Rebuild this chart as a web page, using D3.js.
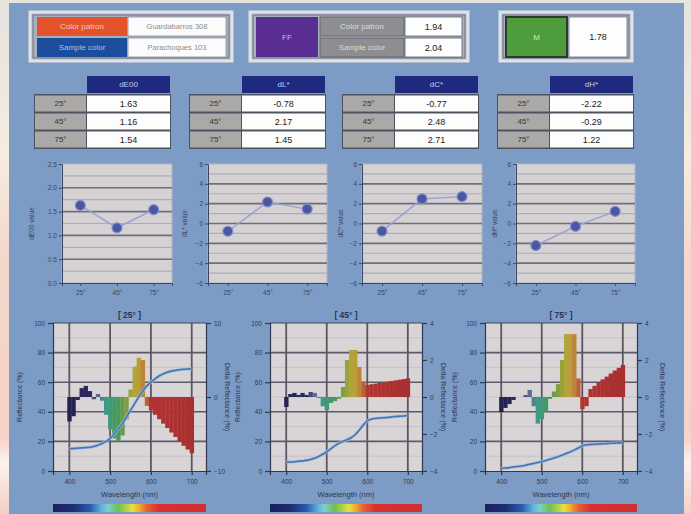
<!DOCTYPE html>
<html><head><meta charset="utf-8">
<script src="https://cdn.jsdelivr.net/npm/d3@7"></script>
<style>
html,body{margin:0;padding:0;background:#7d9cc5;overflow:hidden}
svg{display:block;font-family:"Liberation Sans",Arial,sans-serif}
</style>
</head><body>
<svg id="c" width="691" height="514"></svg>
<script>
// ---- header info ----
const patronLabel = "Color patron";
const sampleLabel = "Sample color";
const patronName = "Guardabarros 308";
const sampleName = "Parachoques 103";
const ffLabel = "FF";
const ffValues = [1.94, 2.04];
const mLabel = "M";
const mValue = 1.78;

// ---- colour differences per geometry ----
const angles = ["25°", "45°", "75°"];
const dE00 = [1.63, 1.16, 1.54];
const dL = [-0.78, 2.17, 1.45];
const dC = [-0.77, 2.48, 2.71];
const dH = [-2.22, -0.29, 1.22];
const dETicks = [0, 0.5, 1, 1.5, 2, 2.5];
const dLCHTicks = [-6, -4, -2, 0, 2, 4, 6];

// ---- spectral data (10 nm steps) ----
const wavelengths = [400,410,420,430,440,450,460,470,480,490,500,510,520,530,540,550,560,570,580,590,600,610,620,630,640,650,660,670,680,690,700];
const refl25 = [15,15.2,15.4,15.6,15.8,16,16.6,17.4,18.6,20,22,25,28.5,32,36.5,41,45.5,50,54,57.5,60,62.2,64.2,65.6,66.7,67.5,68,68.4,68.7,68.9,69];
const refl45 = [6,6.1,6.3,6.6,6.8,7.2,7.8,8.6,9.8,11.3,13,15,17,18.8,20,21.2,22.5,24.5,27.5,31,33.8,35,35.5,35.8,36,36.2,36.5,36.8,37,37.2,37.4];
const refl75 = [1.7,2,2.3,2.7,3,3.4,3.9,4.5,5.1,5.7,6.3,7.1,7.9,8.8,9.7,10.7,11.8,12.9,14.1,15.5,17,17.7,17.9,18.1,18.2,18.4,18.5,18.7,18.8,19,19.1];
const delta25 = [-3.3,-2.6,-0.4,1.2,1.5,0.8,-0.3,0.4,-0.5,-2.4,-4.4,-5.6,-6.0,-5.2,-3.0,1.0,4.1,5.3,5.0,-1.2,-1.8,-2.4,-3.0,-3.6,-4.2,-4.8,-5.4,-6.0,-6.6,-7.1,-7.6];
const delta45 = [-0.54,0.16,0.22,0.11,0.22,0.11,0.27,0.22,-0.05,-0.5,-0.7,-0.32,-0.22,-0.1,0.54,2.0,2.54,2.54,1.62,0.81,0.65,0.69,0.72,0.76,0.79,0.83,0.87,0.9,0.94,0.97,1.01];
const delta75 = [-0.81,-0.59,-0.38,-0.16,0,0,0.1,0.38,-0.5,-1.44,-1.2,-0.8,-0.1,0.3,0.7,2.0,3.4,3.4,3.4,1.0,-0.65,-0.5,0.43,0.6,0.78,0.95,1.1,1.27,1.43,1.58,1.73];
const reflTicks = [0, 20, 40, 60, 80, 100];
const wlTicks = [400, 500, 600, 700];

// spectral colour ramps
const barStops = [400,450,470,490,520,545,565,585,600,700];
const barColors = ["#23214f","#2b2a5e","#5a6a90","#3c9a86","#4a9a5a","#8ea03c","#b8a838","#c07838","#b03432","#a83030"];
const barColor = d3.scaleLinear().domain(barStops).range(barColors).clamp(true);
const rampStops = [360,410,450,480,495,520,555,570,590,620,735];
const rampColors = ["#1c2060","#1e2c70","#2858b0","#60b8e0","#7ed0c8","#6cc050","#e8e040","#f0b030","#e86030","#d83030","#d03030"];

const svg = d3.select("#c");
const defs = svg.append("defs");
const FONT = "'Liberation Sans', Arial, sans-serif";

// ---- backdrop ----
const eg = defs.append("linearGradient").attr("id","edge").attr("x1",0).attr("x2",0).attr("y1",0).attr("y2",1);
[[0,"#e6e2de"],[0.3,"#f6ece0"],[0.5,"#f3d8cc"],[0.85,"#f6d2c8"],[0.9,"#fbf2ee"],[1,"#f4cfc6"]]
  .forEach(s => eg.append("stop").attr("offset",s[0]).attr("stop-color",s[1]));
svg.append("rect").attr("width",691).attr("height",514).attr("fill","url(#edge)");
svg.append("rect").attr("x",9).attr("y",3).attr("width",675).attr("height",511).attr("fill","#7d9cc5");

function rect(x,y,w,h,fill,stroke,sw){
  return svg.append("rect").attr("x",x).attr("y",y).attr("width",w).attr("height",h)
    .attr("fill",fill).attr("stroke",stroke||"none").attr("stroke-width",sw||0);
}
function text(x,y,t,size,color,anchor,weight){
  return svg.append("text").attr("x",x).attr("y",y).text(t).attr("font-size",size)
    .attr("fill",color).attr("text-anchor",anchor||"middle").attr("dominant-baseline","central")
    .attr("font-weight",weight||"normal");
}
function frame(x,y,w,h){
  rect(x,y,w,h,"#b7bfcb","#dfe2e6",3);
  rect(x+3,y+3,w-6,h-6,"#a6b1c0","#6a7280",1);
}

// ---- top boxes ----
frame(30,12,202,49);
rect(37,17,90,19,"#e5532d");
text(82,26.5,patronLabel,8,"#f6c6b4");
rect(37,38,90,19,"#1d4e9e");
text(82,47.5,sampleLabel,8,"#a8c0ec");
rect(128,17,98,19,"#fbfbfb","#8a8f98",0.8);
text(177,26.5,patronName,7.5,"#8c8c8c");
rect(128,38,98,19,"#fbfbfb","#8a8f98",0.8);
text(177,47.5,sampleName,7.5,"#8c8c8c");

frame(250,12,218,49);
rect(256,17,62,40,"#5a2d92");
text(287,37,ffLabel,8,"#cbbde6");
[patronLabel, sampleLabel].forEach((lab,i) => {
  rect(320,17+i*21,84,19,"#8e8e90","#5a5e66",0.8);
  text(362,26.5+i*21,lab,8,"#dadada");
  rect(405,17+i*21,57,19,"#fdfdfd","#5a5e66",0.8);
  text(433.5,26.5+i*21,ffValues[i].toFixed(2),9,"#222");
});

frame(500,12,132,49);
rect(506,17,61,40,"#4e9c3c","#2b3a2a",2);
text(536.5,37,mLabel,8,"#cfe8c4");
rect(569,17,58,40,"#fdfdfd","#6a7280",0.8);
text(598,37,mValue.toFixed(2),9,"#222");

// ---- difference tables ----
const tables = [
  {name:"dE00", vals:dE00, x:35},
  {name:"dL*", vals:dL, x:190},
  {name:"dC*", vals:dC, x:343},
  {name:"dH*", vals:dH, x:498}
];
tables.forEach(t => {
  const lx = t.x, vx = t.x + 52, vw = 83;
  rect(vx,76,vw,17,"#1f2a7e");
  text(vx+vw/2,84.5,t.name,8,"#c5cdf2");
  rect(lx-1,94,52+vw+2,55,"#4c525e");
  t.vals.forEach((v,i) => {
    const y = 95.5 + i*18;
    rect(lx,y,51,16,"#aaa9a8");
    text(lx+25.5,y+8,angles[i],8,"#333");
    rect(vx,y,vw,16,"#fdfdfd");
    text(vx+vw/2,y+8,v.toFixed(2),9,"#1c1c1c");
  });
});

// ---- angle trend charts ----
const trend = [
  {vals:dE00, x0:62, x1:172, dom:[0,2.5], ticks:dETicks, fmt:d3.format(".1f"), title:"dE00 value", tx:34},
  {vals:dL, x0:208, x1:327, dom:[-6,6], ticks:dLCHTicks, fmt:d3.format("d"), title:"dL* value", tx:187},
  {vals:dC, x0:362, x1:482, dom:[-6,6], ticks:dLCHTicks, fmt:d3.format("d"), title:"dC* value", tx:343},
  {vals:dH, x0:516, x1:635, dom:[-6,6], ticks:dLCHTicks, fmt:d3.format("d"), title:"dH* value", tx:497}
];
const tTop = 164, tBot = 283;
trend.forEach(c => {
  const g = svg.append("g");
  const x = d3.scalePoint().domain(angles).range([c.x0,c.x1]).padding(0.5);
  const y = d3.scaleLinear().domain(c.dom).range([tBot,tTop]);
  g.append("rect").attr("x",c.x0).attr("y",tTop).attr("width",c.x1-c.x0).attr("height",tBot-tTop)
    .attr("fill","#d6d1d3").attr("stroke","#b4b6c2").attr("stroke-width",1);
  const step = c.ticks[1]-c.ticks[0];
  const minor = c.ticks.slice(0,-1).map(v => v+step/2);
  g.selectAll(".mn").data(minor).join("line")
    .attr("x1",c.x0).attr("x2",c.x1).attr("y1",d=>y(d)).attr("y2",d=>y(d))
    .attr("stroke","#aeabb6").attr("stroke-width",1.2);
  g.selectAll(".mj").data(c.ticks.slice(1,-1)).join("line")
    .attr("x1",c.x0).attr("x2",c.x1).attr("y1",d=>y(d)).attr("y2",d=>y(d))
    .attr("stroke","#6e6e7e").attr("stroke-width",1.6);
  const ax = g.append("g").attr("transform",`translate(${c.x0},0)`)
    .call(d3.axisLeft(y).tickValues(c.ticks).tickFormat(c.fmt).tickSize(3).tickPadding(2));
  ax.select(".domain").attr("stroke","#3c4660");
  ax.selectAll(".tick line").attr("stroke","#3c4660");
  ax.selectAll("text").attr("font-size",6.5).attr("fill","#3a4660").attr("font-family",FONT);
  const bx = g.append("g").attr("transform",`translate(0,${tBot})`)
    .call(d3.axisBottom(x).tickSize(3).tickPadding(4));
  bx.select(".domain").attr("stroke","#3c4660");
  bx.selectAll(".tick line").attr("stroke","#3c4660");
  bx.selectAll("text").attr("font-size",6.5).attr("fill","#3a4660").attr("font-family",FONT);
  g.append("text").attr("transform",`translate(${c.tx},${(tTop+tBot)/2}) rotate(-90)`)
    .attr("text-anchor","middle").attr("font-size",6.5).attr("fill","#3a4660").text(c.title);
  const line = d3.line().x((d,i)=>x(angles[i])).y(d=>y(d));
  g.append("path").datum(c.vals).attr("d",line).attr("fill","none")
    .attr("stroke","#97a2d6").attr("stroke-width",1.5);
  g.selectAll("circle").data(c.vals).join("circle")
    .attr("cx",(d,i)=>x(angles[i])).attr("cy",d=>y(d)).attr("r",5)
    .attr("fill","#4b58a0").attr("stroke","#8391cf").attr("stroke-width",1.2);
});

// ---- spectral charts ----
const spectra = [
  {label:"[ 25° ]", refl:refl25, delta:delta25, x0:53, x1:206, rDom:[-10,10], rTicks:[-10,0,10], lt:22, rt:225},
  {label:"[ 45° ]", refl:refl45, delta:delta45, x0:270, x1:422, rDom:[-4,4], rTicks:[-4,-2,0,2,4], lt:240, rt:441},
  {label:"[ 75° ]", refl:refl75, delta:delta75, x0:485, x1:637, rDom:[-4,4], rTicks:[-4,-2,0,2,4], lt:457, rt:660}
];
const sTop = 323, sBot = 471;
spectra.forEach((c,k) => {
  const g = svg.append("g");
  const x = d3.scaleLinear().domain([360,735]).range([c.x0,c.x1]);
  const yl = d3.scaleLinear().domain([0,100]).range([sBot,sTop]);
  const yr = d3.scaleLinear().domain(c.rDom).range([sBot,sTop]);
  g.append("rect").attr("x",c.x0).attr("y",sTop).attr("width",c.x1-c.x0).attr("height",sBot-sTop)
    .attr("fill","#d9d4d6");
  // light minor grid
  g.selectAll(".mn").data([10,30,50,70,90]).join("line")
    .attr("x1",c.x0).attr("x2",c.x1).attr("y1",d=>yl(d)).attr("y2",d=>yl(d))
    .attr("stroke","#c6c2ca").attr("stroke-width",1);
  // main grid
  g.selectAll(".gh").data([20,40,60,80]).join("line")
    .attr("x1",c.x0).attr("x2",c.x1).attr("y1",d=>yl(d)).attr("y2",d=>yl(d))
    .attr("stroke","#5c5a6a").attr("stroke-width",1.6);
  g.selectAll(".gv").data(wlTicks).join("line")
    .attr("x1",d=>x(d)).attr("x2",d=>x(d)).attr("y1",sTop).attr("y2",sBot)
    .attr("stroke","#5c5662").attr("stroke-width",1.8);
  // delta reflectance bars
  g.selectAll(".bar").data(c.delta).join("rect")
    .attr("x",(d,i)=>x(wavelengths[i]-5)).attr("width",(d,i)=>x(wavelengths[i]+5)-x(wavelengths[i]-5)+0.3)
    .attr("y",d=>yr(Math.max(0,d))).attr("height",d=>Math.abs(yr(d)-yr(0)))
    .attr("fill",(d,i)=>barColor(wavelengths[i]));
  // reflectance curve
  const line = d3.line().x((d,i)=>x(wavelengths[i])).y(d=>yl(d)).curve(d3.curveMonotoneX);
  g.append("path").datum(c.refl).attr("d",line).attr("fill","none")
    .attr("stroke","#9cc0dc").attr("stroke-width",3);
  g.append("path").datum(c.refl).attr("d",line).attr("fill","none")
    .attr("stroke","#4a72b4").attr("stroke-width",1.6);
  // frame
  g.append("line").attr("x1",c.x0).attr("x2",c.x1).attr("y1",sTop).attr("y2",sTop).attr("stroke","#3c4660").attr("stroke-width",1);
  const styleAxis = a => {
    a.select(".domain").attr("stroke","#2e3852").attr("stroke-width",1.2);
    a.selectAll(".tick line").attr("stroke","#2e3852").attr("stroke-width",1.2);
    a.selectAll("text").attr("font-size",6.5).attr("fill","#2e3a58").attr("font-family",FONT);
  };
  styleAxis(g.append("g").attr("transform",`translate(${c.x0},0)`)
    .call(d3.axisLeft(yl).tickValues(reflTicks).tickSize(5).tickPadding(3)));
  styleAxis(g.append("g").attr("transform",`translate(${c.x1},0)`)
    .call(d3.axisRight(yr).tickValues(c.rTicks).tickSize(5).tickPadding(3)));
  styleAxis(g.append("g").attr("transform",`translate(0,${sBot})`)
    .call(d3.axisBottom(x).tickValues(wlTicks).tickSize(4).tickPadding(4)));
  g.append("text").attr("x",(c.x0+c.x1)/2).attr("y",315).attr("text-anchor","middle")
    .attr("dominant-baseline","central").attr("font-size",8.5).attr("font-weight","bold").attr("fill","#2a3450").text(c.label);
  g.append("text").attr("x",(c.x0+c.x1)/2).attr("y",494).attr("text-anchor","middle")
    .attr("dominant-baseline","central").attr("font-size",7.5).attr("fill","#2a3450").text("Wavelength (nm)");
  g.append("text").attr("transform",`translate(${c.lt},${(sTop+sBot)/2}) rotate(-90)`)
    .attr("text-anchor","middle").attr("font-size",7).attr("fill","#2a3450").text("Reflectance (%)");
  g.append("text").attr("transform",`translate(${c.rt},${(sTop+sBot)/2}) rotate(90)`)
    .attr("text-anchor","middle").attr("font-size",7).attr("fill","#2a3450").text("Delta Reflectance (%)");
  // wavelength colour bar
  const gid = "ramp"+k;
  const grad = defs.append("linearGradient").attr("id",gid).attr("gradientUnits","userSpaceOnUse")
    .attr("x1",x(360)).attr("x2",x(735)).attr("y1",0).attr("y2",0);
  rampStops.forEach((w,i) => grad.append("stop").attr("offset",(w-360)/(735-360)).attr("stop-color",rampColors[i]));
  g.append("rect").attr("x",x(360)).attr("y",504).attr("width",x(735)-x(360)).attr("height",8)
    .attr("fill",`url(#${gid})`);
});
</script>
</body></html>
